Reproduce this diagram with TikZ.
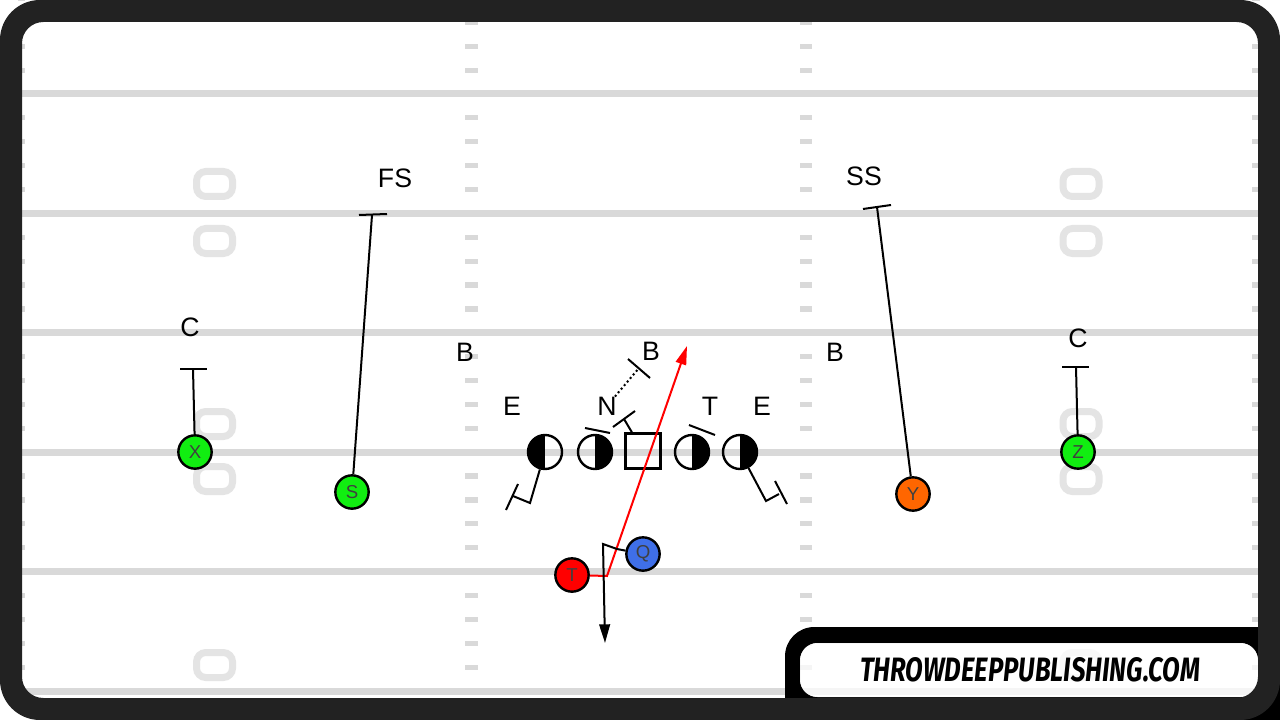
\documentclass[tikz,border=0pt]{standalone}
\usepackage{fontspec}
\setmainfont{Liberation Sans}
\newfontfamily\logofont{Fira Sans}
\usepackage{graphicx}
\usetikzlibrary{arrows.meta}
\definecolor{yard}{HTML}{D9D9D9}
\definecolor{numgray}{HTML}{E4E4E4}
\definecolor{framec}{HTML}{222222}
\definecolor{pgreen}{HTML}{11EE11}
\definecolor{porange}{HTML}{FF6600}
\definecolor{pred}{HTML}{FF0000}
\definecolor{pblue}{HTML}{3F6FE8}
\begin{document}
\begin{tikzpicture}[x=0.75pt,y=-0.75pt,
  player/.style={circle, draw=black, line width=1.8pt, minimum size=25pt, inner sep=0pt,
    font=\fontsize{14}{14}\selectfont, text=black!75},
  dlman/.style={circle, draw=black, line width=1.8pt, minimum size=25.5pt, inner sep=0pt},
  leftblack/.style={dlman, path picture={\fill[black] (path picture bounding box.north) rectangle (path picture bounding box.south west);}},
  rightblack/.style={dlman, path picture={\fill[black] (path picture bounding box.north) rectangle (path picture bounding box.south east);}},
  centerbox/.style={draw=black, line width=1.8pt, minimum size=26pt, inner sep=0pt},
  lbl/.style={font=\fontsize{20}{20}\selectfont, inner sep=0pt},
  route/.style={line width=1.5pt, black},
  redroute/.style={line width=1.5pt, pred},
  tip/.style={-{Triangle[length=14pt,width=8pt]}}
]
\useasboundingbox (0,0) rectangle (1280,720);
\fill[white] (0,0) rectangle (1280,720);

% yard lines
\foreach \y in {94,213.4,332.8,452.2,571.6,691}
  \draw[yard, line width=5.25pt] (22,\y) -- (1258,\y);
% hash marks
\foreach \b in {-25.4,94,213.4,332.8,452.2,571.6}
  \foreach \j in {1,2,3,4} {
    \fill[yard] (465,{\b+\j*23.88-2.6}) rectangle (478,{\b+\j*23.88+2.6});
    \fill[yard] (800,{\b+\j*23.88-2.6}) rectangle (812,{\b+\j*23.88+2.6});
    \fill[yard] (18,{\b+\j*23.88-2.6}) rectangle (25,{\b+\j*23.88+2.6});
    \fill[yard] (1252,{\b+\j*23.88-2.6}) rectangle (1260,{\b+\j*23.88+2.6});
  }
% yard numbers (zeros)
\foreach \cx in {214.5,1081}
  \foreach \cy in {184,241,424,479,665}
    \draw[numgray, line width=5.25pt, rounded corners=7pt] ({\cx-18},{\cy-12.5}) rectangle ({\cx+18},{\cy+12.5});

% labels
\node[lbl] (lC1) at (190,327) {C};
\node[lbl] (lFS) at (395,178) {FS};
\node[lbl] (lSS) at (864,176) {SS};
\node[lbl] (lC2) at (1078,338) {C};
\node[lbl] (lB1) at (465,352) {B};
\node[lbl] (lB2) at (651,351) {B};
\node[lbl] (lB3) at (835,352) {B};
\node[lbl] (lE1) at (512,406) {E};
\node[lbl] (lN) at (607,406) {N};
\node[lbl] (lT) at (710,406) {T};
\node[lbl] (lE2) at (762,406) {E};

% defensive line
\node[leftblack] (E1) at (545,452) {};
\node[rightblack] (D2) at (595,452) {};
\node[centerbox] (SQ) at (643,451) {};
\node[rightblack] (D4) at (692,452) {};
\node[rightblack] (E5) at (740,452) {};

% offense players
\node[player, fill=pgreen] (X) at (195,452) {X};
\node[player, fill=pgreen] (S) at (352,492) {S};
\node[player, fill=porange] (Y) at (913,494) {Y};
\node[player, fill=pgreen] (Z) at (1078,452) {Z};
\node[player, fill=pred] (T) at (572,575) {T};
\node[player, fill=pblue] (Q) at (643,554) {Q};

% coordinates
\coordinate (xe) at (193,369);
\coordinate (xb1) at (180,369); \coordinate (xb2) at (207,369);
\coordinate (se) at (372,215);
\coordinate (sb1) at (359,215); \coordinate (sb2) at (387,214);
\coordinate (ye) at (877,207);
\coordinate (yb1) at (863,209); \coordinate (yb2) at (891,205);
\coordinate (ze) at (1076,367);
\coordinate (zb1) at (1062,367); \coordinate (zb2) at (1089,367);
\coordinate (e1a) at (530,503); \coordinate (e1b) at (513,496);
\coordinate (e1c) at (506,510); \coordinate (e1d) at (518,484);
\coordinate (e5a) at (766,501); \coordinate (e5b) at (779,494);
\coordinate (e5c) at (775,481); \coordinate (e5d) at (787,504);
\coordinate (d2a) at (585,428); \coordinate (d2b) at (610,433);
\coordinate (d4a) at (689,425); \coordinate (d4b) at (715,435);
\coordinate (sqe) at (624,419);
\coordinate (sqb1) at (613,427); \coordinate (sqb2) at (635,411);
\coordinate (nbe) at (639,368);
\coordinate (nb1) at (628,359); \coordinate (nb2) at (650,378);
\coordinate (tk) at (607,576);
\coordinate (rt) at (687,346);
\coordinate (qa) at (617,549);
\coordinate (qb) at (603,544);
\coordinate (qd) at (605,643);

% receivers / safeties blocks
\draw[route] (X) -- (xe); \draw[route] (xb1) -- (xb2);
\draw[route] (S) -- (se); \draw[route] (sb1) -- (sb2);
\draw[route] (Y) -- (ye); \draw[route] (yb1) -- (yb2);
\draw[route] (Z) -- (ze); \draw[route] (zb1) -- (zb2);

% line blocks
\draw[route] (E1) -- (e1a) -- (e1b); \draw[route] (e1c) -- (e1d);
\draw[route] (E5) -- (e5a) -- (e5b); \draw[route] (e5c) -- (e5d);
\draw[route] (d2a) -- (d2b);
\draw[route] (d4a) -- (d4b);
\draw[route] (SQ) -- (sqe); \draw[route] (sqb1) -- (sqb2);
\draw[route, dotted] (lN) -- (nbe); \draw[route] (nb1) -- (nb2);

% backfield
\draw[redroute, tip] (T) -- (tk) -- (rt);
\draw[route, tip] (Q) -- (qa) -- (qb) -- (qd);

% logo box
\path[fill=black, even odd rule] [rounded corners=22pt] (785,627) rectangle (1300,740)
   [rounded corners=13pt] (800,643) rectangle (1258,697);
\fill[white, fill opacity=0.75, rounded corners=13pt] (800,643) rectangle (1258,697);
\node[inner sep=0pt] (logo) at (1030,670) {\resizebox{255pt}{18pt}{\logofont\bfseries\itshape THROWDEEPPUBLISHING.COM}};

% frame
\path[fill=framec, even odd rule] [rounded corners=30pt] (0,0) rectangle (1280,720)
   [rounded corners=16pt] (22,22) rectangle (1258,698);
\end{tikzpicture}
\end{document}
